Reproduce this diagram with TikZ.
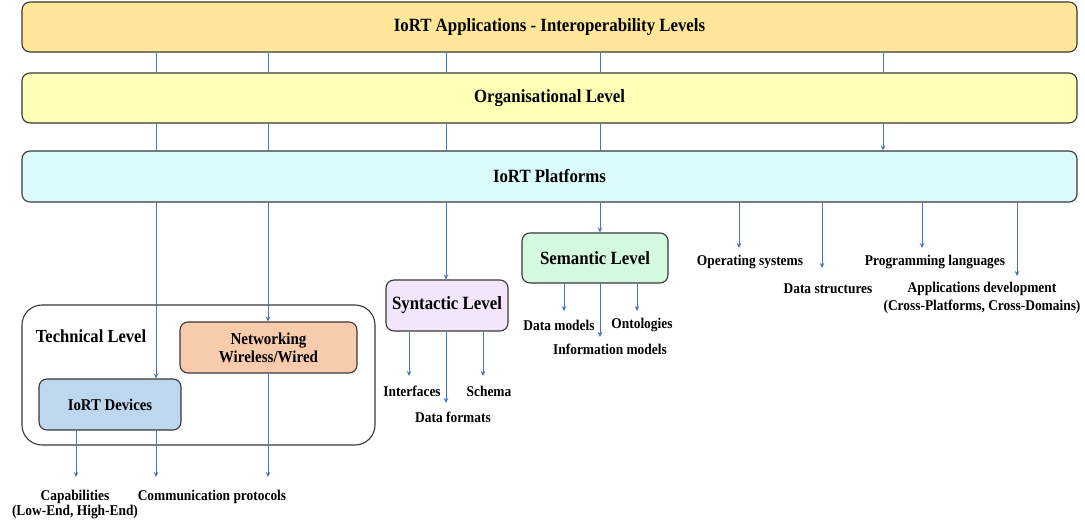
\documentclass[tikz,border=0pt]{standalone}
\usepackage{fontspec}
\setmainfont{Liberation Serif}[FakeStretch=0.9]
\usetikzlibrary{arrows.meta}
\definecolor{boxline}{HTML}{383838}
\definecolor{linkblue}{HTML}{4472C4}
\definecolor{topfill}{HTML}{FFE699}
\definecolor{orgfill}{HTML}{FFFFB5}
\definecolor{platfill}{HTML}{DAFAFC}
\definecolor{netfill}{HTML}{F8CBAD}
\definecolor{devfill}{HTML}{BDD7EE}
\definecolor{synfill}{HTML}{F3E6FB}
\definecolor{semfill}{HTML}{D5F9DE}
\begin{document}
\begin{tikzpicture}[x=1pt,y=-1pt,
  box/.style={draw=boxline,line width=1.1pt,rounded corners=8pt,inner sep=0pt,align=center},
  band/.style={box,minimum width=1055pt,minimum height=50pt,font=\fontsize{18.7}{20}\selectfont\bfseries},
  sub/.style={box,minimum height=51pt,font=\fontsize{18.7}{20}\selectfont\bfseries},
  conn/.style={draw=linkblue,line width=0.9pt},
  arr/.style={conn,-{Stealth[length=5pt,width=4.5pt]}},
  lbl/.style={font=\fontsize{14.9}{15.5}\selectfont\bfseries,inner sep=0pt,align=center}]
\useasboundingbox (0,0) rectangle (1085,521);

% bands
\node[band,fill=topfill] (top) at (549.5,27) {IoRT Applications - Interoperability Levels};
\node[band,fill=orgfill] (org) at (549.5,98) {Organisational Level};
\node[band,fill=platfill,minimum height=51pt] (plat) at (549.5,176.5) {IoRT Platforms};

% technical level
\node[draw=boxline,line width=1.1pt,rounded corners=20pt,minimum width=353pt,minimum height=140pt] (tech) at (198.5,375) {};
\node[font=\fontsize{18.4}{20}\selectfont\bfseries,inner sep=0pt] (techlbl) at (91,336) {Technical Level};
\node[sub,fill=netfill,minimum width=177pt,font=\fontsize{16.7}{18}\selectfont\bfseries] (net) at (268.5,347.5) {Networking\\Wireless/Wired};
\node[sub,fill=devfill,minimum width=142pt,font=\fontsize{16.4}{18}\selectfont\bfseries] (dev) at (110,404.5) {IoRT Devices};

% syntactic / semantic
\node[sub,fill=synfill,minimum width=122pt] (syn) at (447,305.5) {Syntactic Level};
\node[sub,fill=semfill,minimum width=146pt,minimum height=50pt] (sem) at (595,258) {Semantic Level};

% columns
\foreach \x in {76,156,268,409,446,483,564,600,637,739,822,883,922,1017}
  \coordinate (k\x) at (\x,0);

% band connectors
\foreach \x in {156,268,446,600,883}
  \draw[conn] (top.south -| k\x) -- (org.north -| k\x);
\foreach \x in {156,268,446,600}
  \draw[conn] (org.south -| k\x) -- (plat.north -| k\x);
\draw[arr] (org.south -| k883) -- (plat.north -| k883);

% platforms downward
\draw[arr] (plat.south -| k156) -- (dev.north -| k156);
\draw[arr] (plat.south -| k268) -- (net.north -| k268);
\draw[arr] (plat.south -| k446) -- (syn.north -| k446);
\draw[arr] (plat.south -| k600) -- (sem.north -| k600);

\coordinate (eos) at (739,248);
\coordinate (eds) at (822,268);
\coordinate (epl) at (922,248);
\coordinate (ead) at (1017,276);
\draw[arr] (plat.south -| k739) -- (eos);
\draw[arr] (plat.south -| k822) -- (eds);
\draw[arr] (plat.south -| k922) -- (epl);
\draw[arr] (plat.south -| k1017) -- (ead);

% syntactic arrows
\coordinate (eif) at (409,376);
\coordinate (edf) at (446,403);
\coordinate (esc) at (483,376);
\draw[arr] (syn.south -| k409) -- (eif);
\draw[arr] (syn.south -| k446) -- (edf);
\draw[arr] (syn.south -| k483) -- (esc);

% semantic arrows
\coordinate (edm) at (564,311);
\coordinate (eim) at (600,337);
\coordinate (eon) at (637,311);
\draw[arr] (sem.south -| k564) -- (edm);
\draw[arr] (sem.south -| k600) -- (eim);
\draw[arr] (sem.south -| k637) -- (eon);

% technical arrows
\coordinate (ecap) at (76,477);
\coordinate (ecom1) at (156,477);
\coordinate (ecom2) at (268,477);
\draw[arr] (dev.south -| k76) -- (ecap);
\draw[arr] (dev.south -| k156) -- (ecom1);
\draw[arr] (net.south -| k268) -- (ecom2);

% labels
\node[lbl] (os) at (750,262) {Operating systems};
\node[lbl] (ds) at (828,289) {Data structures};
\node[lbl] (pl) at (935,262) {Programming languages};
\node[lbl,font=\fontsize{14.9}{18}\selectfont\bfseries] (ad) at (982,298) {Applications development\\(Cross-Platforms, Cross-Domains)};
\node[lbl] (dm) at (559,325) {Data models};
\node[lbl] (on) at (642,325) {Ontologies};
\node[lbl] (im) at (610,349) {Information models};
\node[lbl] (if) at (412,391) {Interfaces};
\node[lbl] (sc) at (489,391) {Schema};
\node[lbl] (df) at (453,417) {Data formats};
\node[lbl] (cap) at (75,504.5) {Capabilities\\(Low-End, High-End)};
\node[lbl] (com) at (212,497) {Communication protocols};
\end{tikzpicture}
\end{document}
